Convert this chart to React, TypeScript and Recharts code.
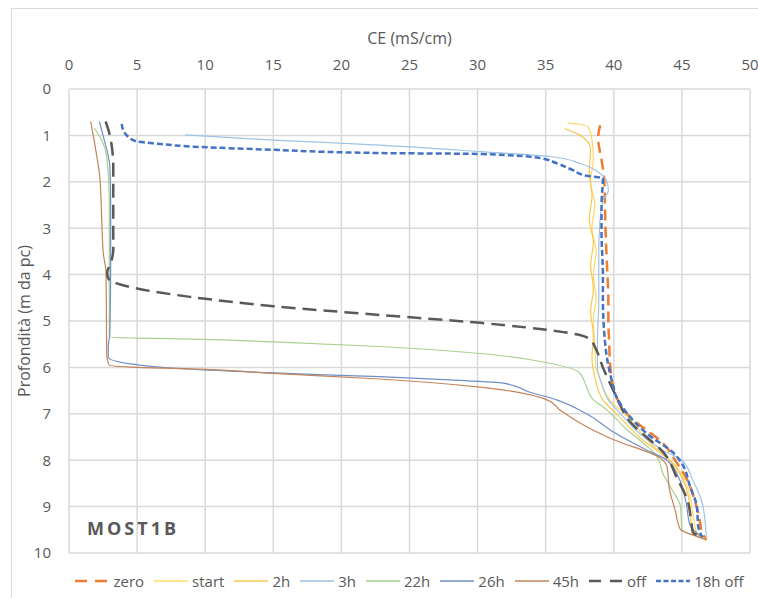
import React from 'react';
import { ScatterChart, Scatter, XAxis, YAxis, CartesianGrid } from 'recharts';

// CE (mS/cm) vs depth (m) pairs, per series
const zeroPts: [number, number][] = [
  [39.0, 0.78], [38.85, 1.06], [39.1, 1.53], [39.3, 1.96], [39.35, 2.5], [39.4, 3.1], [39.5, 3.8],
  [39.6, 4.55], [39.6, 5.0], [39.65, 5.4], [39.75, 6.0], [39.9, 6.34], [40.2, 6.64], [40.7, 6.92],
  [41.5, 7.15], [42.4, 7.35], [43.6, 7.63], [44.5, 8.0], [45.4, 8.43], [46.0, 8.92], [46.3, 9.29],
  [46.5, 9.57], [46.8, 9.72],
];
const startPts: [number, number][] = [
  [36.6, 0.73], [37.5, 0.76], [38.1, 0.81], [38.4, 1.1], [38.5, 1.5], [38.3, 2.0], [38.6, 2.5],
  [38.4, 3.0], [38.7, 3.5], [38.5, 4.0], [38.7, 4.5], [38.5, 5.0], [38.6, 5.5], [38.7, 6.0],
  [39.0, 6.27], [39.7, 6.7], [41.0, 7.06], [42.9, 7.7], [44.6, 8.14], [45.4, 8.57], [45.8, 9.14],
  [46.1, 9.57], [46.8, 9.72],
];
const h2Pts: [number, number][] = [
  [36.4, 0.85], [37.2, 0.95], [37.7, 1.03], [38.3, 1.3], [38.2, 1.8], [38.4, 2.3], [38.2, 2.8],
  [38.5, 3.3], [38.3, 3.8], [38.5, 4.3], [38.3, 4.8], [38.5, 5.3], [38.4, 5.8], [38.6, 6.2],
  [39.2, 6.7], [40.2, 7.0], [42.1, 7.56], [44.1, 8.0], [45.1, 8.43], [45.6, 9.0], [45.7, 9.43],
  [46.5, 9.68],
];
const h3Pts: [number, number][] = [
  [8.5, 0.99], [15, 1.1], [22.8, 1.21], [30.2, 1.35], [35.5, 1.46], [37.5, 1.6], [39.0, 1.82],
  [39.5, 2.0], [39.6, 2.2], [39.2, 2.4], [38.95, 3.0], [38.9, 3.5], [38.9, 4.5], [38.8, 5.5],
  [38.8, 6.0], [39.1, 6.34], [39.6, 6.7], [40.5, 7.0], [42.0, 7.45], [43.7, 7.8], [45.0, 8.0],
  [45.8, 8.43], [46.5, 8.93], [46.8, 9.66],
];
const h22Pts: [number, number][] = [
  [1.86, 0.84], [2.4, 1.1], [2.77, 1.46], [2.96, 2.39], [2.96, 3.5], [2.96, 4.5], [2.96, 5.34],
  [5, 5.37], [8.9, 5.39], [15, 5.45], [22.8, 5.55], [30.2, 5.7], [35.1, 5.9], [37.5, 6.12],
  [38.0, 6.42], [38.5, 6.7], [39.2, 6.85], [41.0, 7.35], [43.2, 7.93], [43.6, 8.28], [44.2, 8.6],
  [44.9, 9.0], [45.0, 9.5], [46.3, 9.65],
];
const h26Pts: [number, number][] = [
  [2.23, 0.7], [2.5, 1.0], [3.0, 1.68], [3.06, 2.5], [3.06, 3.69], [3.0, 5.26], [2.88, 5.56],
  [2.88, 5.78], [5.2, 5.95], [8.9, 6.04], [15, 6.12], [22.8, 6.2], [28, 6.27], [31.9, 6.34],
  [33.8, 6.53], [35.8, 6.7], [38.0, 7.0], [40.0, 7.4], [42.4, 7.78], [43.9, 8.0], [44.8, 8.4],
  [45.3, 8.9], [45.6, 9.4], [46.5, 9.66],
];
const h45Pts: [number, number][] = [
  [1.59, 0.7], [1.9, 1.2], [2.28, 1.96], [2.4, 2.8], [2.52, 3.54], [2.72, 3.97], [2.75, 5.0],
  [2.77, 5.73], [2.94, 5.95], [5, 6.0], [8.9, 6.03], [15, 6.13], [22.8, 6.25], [30, 6.42],
  [35.1, 6.7], [36.05, 6.92], [38.0, 7.28], [40.0, 7.56], [43.4, 7.95], [43.9, 8.14], [44.1, 8.65],
  [44.5, 9.07], [44.9, 9.5], [45.8, 9.61], [46.8, 9.72],
];
const offPts: [number, number][] = [
  [2.69, 0.7], [3.0, 1.0], [3.25, 1.68], [3.25, 2.5], [3.25, 3.47], [3.13, 3.69], [2.8, 3.97],
  [2.95, 4.12], [3.5, 4.19], [5, 4.3], [8.9, 4.48], [15, 4.68], [22.8, 4.87], [30.2, 5.04],
  [36.3, 5.24], [37.5, 5.3], [38.3, 5.41], [38.6, 5.55], [39.2, 6.0], [40.2, 6.64], [41.0, 7.1],
  [43.9, 7.93], [44.6, 8.36], [45.4, 8.86], [45.7, 9.35], [45.8, 9.55], [46.5, 9.66],
];
const off18Pts: [number, number][] = [
  [3.87, 0.75], [4.0, 0.9], [4.36, 1.03], [4.97, 1.13], [6.5, 1.18], [9.6, 1.25], [15, 1.31],
  [22.8, 1.38], [30.2, 1.4], [34.6, 1.49], [35.8, 1.6], [37.0, 1.75], [38.0, 1.87], [39.2, 1.92],
  [39.1, 2.5], [39.1, 3.1], [39.2, 4.0], [39.2, 4.55], [39.3, 5.26], [39.45, 5.7], [39.9, 6.34],
  [40.2, 6.64], [41.0, 7.0], [42.4, 7.42], [44.4, 7.85], [45.0, 8.07], [45.6, 8.57], [46.1, 9.0],
  [46.2, 9.43], [46.5, 9.66],
];

const xTicks = [0, 5, 10, 15, 20, 25, 30, 35, 40, 45, 50];
const yTicks = [0, 1, 2, 3, 4, 5, 6, 7, 8, 9, 10];

const seriesNames = ['zero', 'start', '2h', '3h', '22h', '26h', '45h', 'off', '18h off'];
const seriesPts = [zeroPts, startPts, h2Pts, h3Pts, h22Pts, h26Pts, h45Pts, offPts, off18Pts];
const seriesColors = ['#ED7D31', '#FFD966', '#F9C74F', '#9DC3E6', '#A9D18E', '#6F8FC7', '#C4845A', '#595959', '#4472C4'];
const seriesWidths = [2.5, 1.2, 1.2, 1.2, 1.2, 1.2, 1.2, 2.5, 2.5];
const seriesDash = ['11 6', undefined, undefined, undefined, undefined, undefined, undefined, '14 7', '6 3'];
const legendDash = ['12 8', undefined, undefined, undefined, undefined, undefined, undefined, '12 9', '5 2.5'];

const FONT = '"Open Sans", sans-serif';
const GRAY = '#595959';

const NoShape = () => <g />;

export default function App() {
  return (
    <div style={{ position: 'absolute', left: 0, top: 0, width: 758, height: 598, overflow: 'hidden', background: '#fff', fontFamily: FONT }}>
      <div style={{ position: 'absolute', left: 11, top: 8, width: 900, height: 800, border: '1px solid #d9d9d9', boxSizing: 'border-box' }} />
      <div style={{ position: 'absolute', left: 0, top: 0 }}>
        <ScatterChart width={758} height={598} margin={{ top: 0, right: 8, bottom: 45, left: 0 }} style={{ fontFamily: FONT }}>
          <CartesianGrid stroke="#d9d9d9" strokeWidth={1.5} />
          <XAxis
            type="number"
            dataKey="x"
            orientation="top"
            domain={[0, 50]}
            ticks={xTicks}
            height={89}
            axisLine={false}
            tickLine={false}
            tickSize={6}
            tickMargin={13}
            tick={{ fill: GRAY, fontSize: 15, fontFamily: FONT }}
            label={{ value: 'CE (mS/cm)', position: 'insideTop', offset: 33, fill: GRAY, fontSize: 16, fontFamily: FONT }}
          />
          <YAxis
            type="number"
            dataKey="y"
            reversed
            domain={[0, 10]}
            ticks={yTicks}
            width={69}
            axisLine={false}
            tickLine={false}
            tickSize={6}
            tickMargin={12}
            tick={{ fill: GRAY, fontSize: 15, fontFamily: FONT }}
            label={{ value: 'Profondità (m da pc)', angle: -90, position: 'insideLeft', offset: 24, fill: GRAY, fontSize: 16, fontFamily: FONT, style: { textAnchor: 'middle' } }}
          />
          {seriesPts.map((pts, i) => (
            <Scatter
              key={seriesNames[i]}
              name={seriesNames[i]}
              data={pts.map(([x, y]) => ({ x, y }))}
              fill={seriesColors[i]}
              line={{ stroke: seriesColors[i], strokeWidth: seriesWidths[i], strokeDasharray: seriesDash[i], strokeLinejoin: 'round', strokeLinecap: 'butt' }}
              lineType="joint"
              lineJointType="monotoneY"
              shape={NoShape}
              isAnimationActive={false}
            />
          ))}
        </ScatterChart>
      </div>
      <svg style={{ position: 'absolute', left: 0, top: 0, pointerEvents: 'none' }} width={758} height={598}>
        <text x={87} y={535} fill={GRAY} fontSize={18} fontWeight="bold" fontFamily={FONT} letterSpacing={3}>MOST1B</text>
      </svg>
      <div style={{ position: 'absolute', left: 69, width: 681, top: 571, height: 20, display: 'flex', justifyContent: 'center', alignItems: 'center', fontSize: 15, color: GRAY, whiteSpace: 'nowrap' }}>
        {seriesNames.map((n, i) => (
          <div key={n} style={{ display: 'flex', alignItems: 'center', marginRight: i < seriesNames.length - 1 ? 10 : 0 }}>
            <svg width={34} height={10} style={{ marginRight: 4 }}>
              <line x1={0} y1={5} x2={34} y2={5} stroke={seriesColors[i]} strokeWidth={seriesWidths[i] > 2 ? 2.5 : 1.3} strokeDasharray={legendDash[i]} />
            </svg>
            <span>{n}</span>
          </div>
        ))}
      </div>
    </div>
  );
}
